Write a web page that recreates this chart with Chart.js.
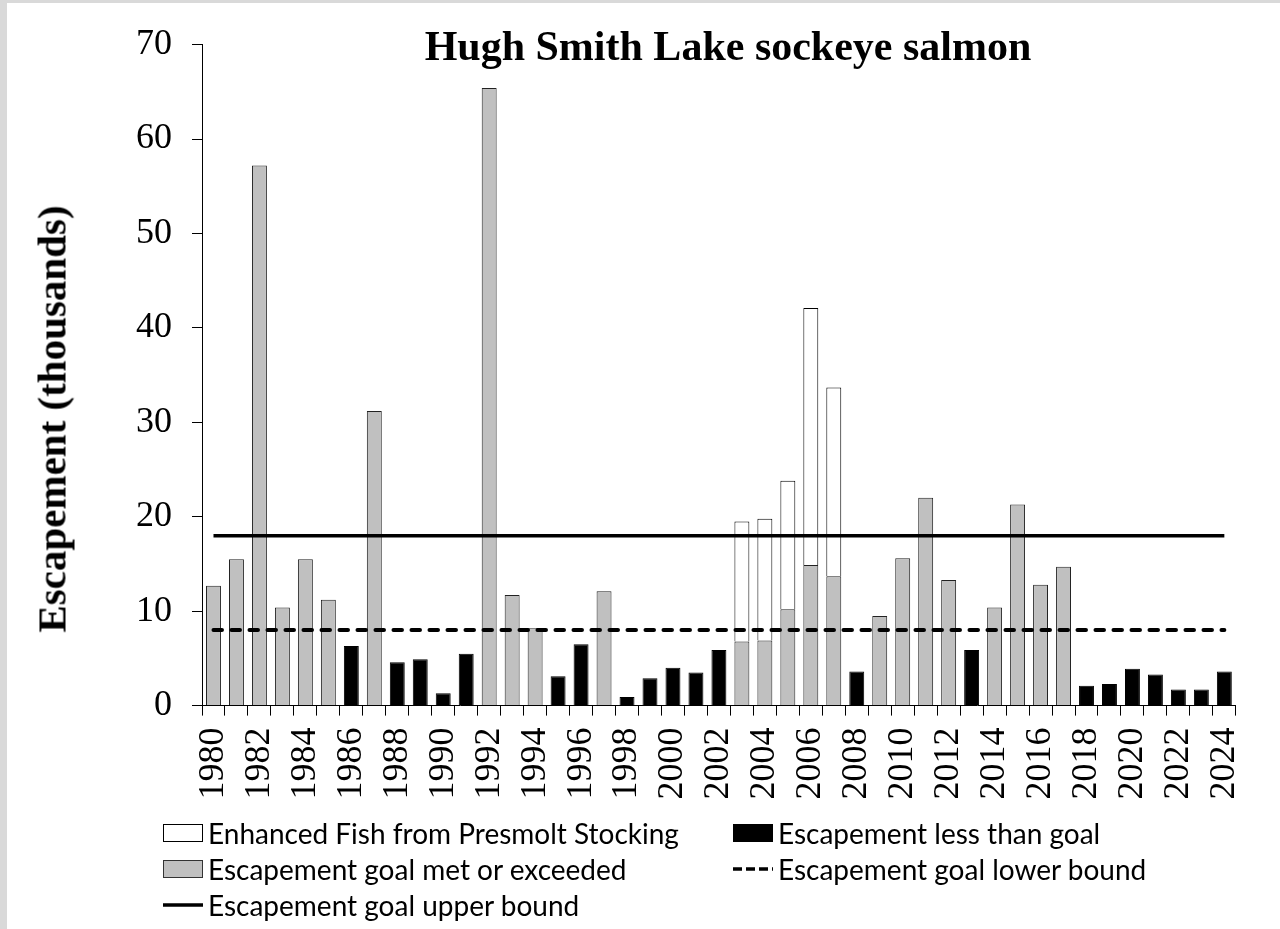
<!DOCTYPE html>
<html>
<head>
<meta charset="utf-8">
<title>Hugh Smith Lake sockeye salmon</title>
<script src="https://cdn.jsdelivr.net/npm/chart.js@4.4.0/dist/chart.umd.min.js"></script>
<style>
  html, body { margin: 0; padding: 0; }
  body { width: 1280px; height: 929px; background: #d9d9d9; position: relative; overflow: hidden; }
  #frame { position: absolute; left: 7px; top: 3px; width: 1273px; height: 926px; background: #fff; }
  #frame canvas { position: absolute; left: 0; top: 0; }
  .title { position: absolute; left: 328px; top: 25px; width: 800px; text-align: center;
    font: bold 42px/42px "Liberation Serif", serif; color: #000; white-space: nowrap; }
  .ytitle { position: absolute; left: 51.5px; top: 418.5px; transform: translate(-50%, -50%) rotate(-90deg);
    font: bold 41px/41px "Liberation Serif", serif; color: #000; white-space: nowrap; }
  .leg { position: absolute; height: 30px; display: flex; align-items: center;
    font: 28px "Lato", sans-serif; color: #000; white-space: nowrap; }
  .sw { width: 38px; height: 16px; border: 1px solid #000; margin-right: 5px; }
  .leg svg { margin-right: 5px; }
</style>
</head>
<body>
<div id="frame">
  <canvas id="chart-escapement"></canvas>
</div>
<div class="title">Hugh Smith Lake sockeye salmon</div>
<div class="ytitle">Escapement (thousands)</div>

<div class="leg" style="left:163px; top:818px;">
  <span class="sw" style="background:#fff;"></span><span>Enhanced Fish from Presmolt Stocking</span>
</div>
<div class="leg" style="left:733px; top:818px;">
  <span class="sw" style="background:#000;"></span><span>Escapement less than goal</span>
</div>
<div class="leg" style="left:163px; top:854px;">
  <span class="sw" style="background:#c0c0c0; border-color:#333;"></span><span>Escapement goal met or exceeded</span>
</div>
<div class="leg" style="left:733px; top:854px;">
  <svg width="40" height="10"><line x1="0" y1="5" x2="40" y2="5" stroke="#000" stroke-width="3.5" stroke-dasharray="9 4"/></svg><span>Escapement goal lower bound</span>
</div>
<div class="leg" style="left:163px; top:890px;">
  <svg width="40" height="10"><line x1="0" y1="5" x2="40" y2="5" stroke="#000" stroke-width="3.5"/></svg><span>Escapement goal upper bound</span>
</div>

<script>
const years = [1980, 1981, 1982, 1983, 1984, 1985, 1986, 1987, 1988, 1989,
  1990, 1991, 1992, 1993, 1994, 1995, 1996, 1997, 1998, 1999,
  2000, 2001, 2002, 2003, 2004, 2005, 2006, 2007, 2008, 2009,
  2010, 2011, 2012, 2013, 2014, 2015, 2016, 2017, 2018, 2019,
  2020, 2021, 2022, 2023, 2024];

// wild escapement (thousands)
const escapement = [12.7, 15.5, 57.2, 10.4, 15.5, 11.2, 6.3, 31.2, 4.6, 4.9,
  1.3, 5.5, 65.4, 11.7, 8.2, 3.1, 6.5, 12.1, 0.9, 2.9,
  4.0, 3.5, 5.9, 6.8, 6.9, 10.2, 14.9, 13.7, 3.6, 9.5,
  15.6, 22.0, 13.3, 5.9, 10.4, 21.3, 12.8, 14.7, 2.1, 2.3,
  3.9, 3.3, 1.7, 1.7, 3.6];

// enhanced fish from presmolt stocking (thousands), 2003-2007
const enhanced = [null, null, null, null, null, null, null, null, null, null,
  null, null, null, null, null, null, null, null, null, null,
  null, null, null, 12.7, 12.9, 13.6, 27.2, 20.0, null, null,
  null, null, null, null, null, null, null, null, null, null,
  null, null, null, null, null];

const goalLower = 8;
const goalUpper = 18;
const yTicks = [0, 10, 20, 30, 40, 50, 60, 70];

const goalMet = escapement.map((v, i) => (v + (enhanced[i] || 0) >= goalLower ? v : null));
const belowGoal = escapement.map((v, i) => (v + (enhanced[i] || 0) >= goalLower ? null : v));

Chart.defaults.font.family = '"Liberation Serif", serif';
Chart.defaults.color = '#000';

const ctx = document.getElementById('chart-escapement');
new Chart(ctx, {
  type: 'bar',
  data: {
    labels: years,
    datasets: [
      {
        label: 'Escapement goal upper bound',
        type: 'line',
        data: years.map(() => goalUpper),
        borderColor: '#000',
        borderWidth: 3.5,
        pointRadius: 0,
        stack: 'upper',
        order: 0
      },
      {
        label: 'Escapement goal lower bound',
        type: 'line',
        data: years.map(() => goalLower),
        borderColor: '#000',
        borderWidth: 4,
        borderDash: [8.5, 9.5],
        borderCapStyle: 'round',
        pointRadius: 0,
        stack: 'lower',
        order: 0
      },
      {
        label: 'Escapement goal met or exceeded',
        data: goalMet,
        backgroundColor: '#c0c0c0',
        borderColor: '#222',
        borderWidth: 1,
        stack: 'bars',
        order: 1
      },
      {
        label: 'Escapement less than goal',
        data: belowGoal,
        backgroundColor: '#000',
        borderColor: '#000',
        borderWidth: 1,
        stack: 'bars',
        order: 1
      },
      {
        label: 'Enhanced Fish from Presmolt Stocking',
        data: enhanced,
        backgroundColor: '#fff',
        borderColor: '#000',
        borderWidth: 1,
        stack: 'bars',
        order: 1
      }
    ]
  },
  options: {
    responsive: true,
    maintainAspectRatio: false,
    animation: false,
    layout: { padding: { left: 0, top: 35.6, right: 41, bottom: 0 } },
    datasets: { bar: { barPercentage: 0.65, categoryPercentage: 1 } },
    plugins: {
      legend: { display: false },
      tooltip: { enabled: false }
    },
    scales: {
      x: {
        stacked: true,
        grid: { drawOnChartArea: false, tickLength: 10, color: '#000', offset: true },
        border: { color: '#000', width: 1 },
        ticks: {
          autoSkip: false,
          minRotation: 90,
          maxRotation: 90,
          padding: 12,
          font: { size: 36 },
          callback: (v, i) => (i % 2 === 0 ? String(years[i]) : '')
        },
        afterFit: s => { s.height = 223.4; }
      },
      y: {
        stacked: true,
        min: yTicks[0],
        max: yTicks[yTicks.length - 1],
        grid: { drawOnChartArea: false, tickLength: 10, color: '#000' },
        border: { color: '#000', width: 1 },
        ticks: { stepSize: 10, padding: 20, font: { size: 36 } },
        afterFit: s => { s.width = 195; }
      }
    }
  }
});
</script>
</body>
</html>
